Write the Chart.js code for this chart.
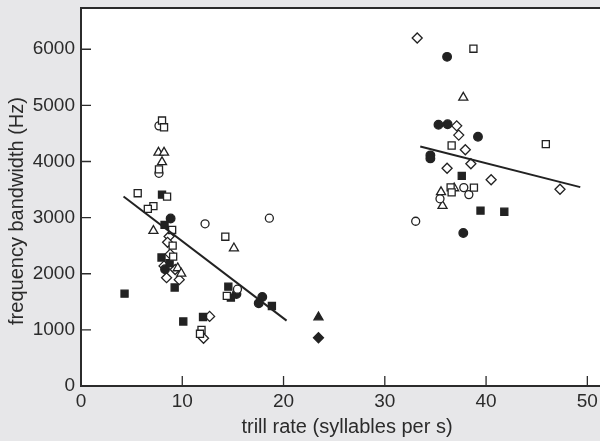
<!DOCTYPE html>
<html>
<head>
<meta charset="utf-8">
<script src="https://cdn.jsdelivr.net/npm/chart.js@4.4.0/dist/chart.umd.min.js"></script>
<style>
  html, body { margin: 0; padding: 0; background: #e7e7e9; overflow: hidden; }
  #chart { display: block; }
</style>
</head>
<body>
<canvas id="chart" width="600" height="441"></canvas>
<script>
const xTicks = [0, 10, 20, 30, 40, 50];
const yTicks = [0, 1000, 2000, 3000, 4000, 5000, 6000];
const xTitle = "trill rate (syllables per s)";
const yTitle = "frequency bandwidth (Hz)";

// [trill rate, bandwidth]
const openSquares = [
  [8.0, 4730], [8.2, 4610], [7.7, 3860], [5.6, 3435], [8.5, 3375], [7.15, 3205],
  [6.6, 3155], [9.0, 2780], [9.05, 2500], [9.1, 2305], [14.25, 2660], [14.4, 1605],
  [11.9, 1000], [11.75, 930],
  [38.75, 6010], [36.6, 4285], [45.9, 4310], [36.5, 3540], [36.6, 3450], [38.8, 3535]
];
const filledSquares = [
  [8.0, 3410], [8.25, 2870], [7.95, 2290], [8.75, 2190], [9.25, 1755], [4.3, 1645],
  [14.55, 1770], [14.8, 1575], [18.85, 1425], [10.1, 1150], [12.05, 1230],
  [37.6, 3745], [39.45, 3125], [41.8, 3105]
];
const openCircles = [
  [7.7, 4635], [7.7, 3790], [12.25, 2890], [18.6, 2990], [15.45, 1725],
  [37.8, 3535], [38.3, 3410], [35.45, 3335], [33.05, 2935]
];
const filledCircles = [
  [8.85, 2985], [8.3, 2080], [15.35, 1640], [17.9, 1585], [17.55, 1475],
  [36.15, 5865], [35.3, 4655], [36.2, 4665], [39.2, 4440], [34.5, 4110], [34.5, 4055],
  [37.75, 2725]
];
const openTriangles = [
  [7.65, 4160], [8.2, 4160], [8.0, 3990], [7.15, 2765], [15.1, 2455], [9.55, 2100],
  [9.9, 2005],
  [37.75, 5140], [36.85, 3525], [35.55, 3455], [35.7, 3210]
];
const filledTriangles = [[23.45, 1225]];
const openDiamonds = [
  [8.7, 2665], [8.55, 2560], [8.8, 2350], [8.2, 2140], [9.3, 2075], [8.45, 1930],
  [9.7, 1895], [12.7, 1240], [12.1, 850],
  [33.2, 6200], [37.1, 4635], [37.3, 4470], [37.95, 4210], [38.5, 3960], [36.15, 3880],
  [40.5, 3675], [47.3, 3505]
];
const filledDiamonds = [[23.45, 860]];
const fitSlow = [[4.2, 3375], [20.3, 1165]];
const fitFast = [[33.5, 4267], [49.3, 3543]];

const ink = '#222';
const toXY = pts => pts.map(p => ({ x: p[0], y: p[1] }));

function markers(label, pts, style, filled, r) {
  return {
    type: 'scatter',
    label: label,
    data: toXY(pts),
    pointStyle: style,
    pointRadius: r,
    pointHoverRadius: r,
    pointBorderWidth: 1.3,
    pointBorderColor: ink,
    pointBackgroundColor: filled ? ink : '#fff'
  };
}

function fitLine(label, pts) {
  return {
    type: 'line',
    label: label,
    data: toXY(pts),
    borderColor: ink,
    borderWidth: 2,
    pointRadius: 0,
    fill: false
  };
}

const frame = {
  id: 'frame',
  beforeDraw(chart) {
    const { ctx, chartArea: a } = chart;
    ctx.save();
    ctx.fillStyle = '#fff';
    ctx.fillRect(a.left, a.top, a.right - a.left + 5, a.bottom - a.top);
    ctx.restore();
  },
  afterDraw(chart) {
    const { ctx, chartArea: a, scales } = chart;
    ctx.save();
    ctx.strokeStyle = '#2b2b2b';
    ctx.lineWidth = 1.3;
    ctx.beginPath();
    xTicks.forEach(v => {
      const px = scales.x.getPixelForValue(v);
      ctx.moveTo(px, a.bottom);
      ctx.lineTo(px, a.bottom - 10);
    });
    yTicks.forEach(v => {
      const py = scales.y.getPixelForValue(v);
      ctx.moveTo(a.left, py);
      ctx.lineTo(a.left + 10, py);
    });
    ctx.stroke();
    ctx.lineWidth = 2;
    ctx.beginPath();
    ctx.moveTo(a.right + 5, a.top);
    ctx.lineTo(a.left, a.top);
    ctx.lineTo(a.left, a.bottom);
    ctx.lineTo(a.right + 5, a.bottom);
    ctx.stroke();

    ctx.fillStyle = '#2b2b2b';
    ctx.font = '20px "Liberation Sans", Arial, sans-serif';
    ctx.textAlign = 'center';
    ctx.textBaseline = 'middle';
    ctx.fillText(xTitle, a.left + 266, a.bottom + 41);
    ctx.translate(17, a.top + 203);
    ctx.rotate(-Math.PI / 2);
    ctx.fillText(yTitle, 0, 0);
    ctx.restore();
  }
};

const tickFont = { family: '"Liberation Sans", Arial, sans-serif', size: 19 };

new Chart(document.getElementById('chart'), {
  data: {
    datasets: [
      fitLine('fit slow', fitSlow),
      fitLine('fit fast', fitFast),
      markers('open squares', openSquares, 'rect', false, 5),
      markers('filled squares', filledSquares, 'rect', true, 5),
      markers('open circles', openCircles, 'circle', false, 4),
      markers('filled circles', filledCircles, 'circle', true, 4.3),
      markers('open triangles', openTriangles, 'triangle', false, 5.2),
      markers('filled triangles', filledTriangles, 'triangle', true, 5.2),
      markers('open diamonds', openDiamonds, 'rectRot', false, 5),
      markers('filled diamonds', filledDiamonds, 'rectRot', true, 5)
    ]
  },
  options: {
    responsive: false,
    animation: false,
    layout: { autoPadding: false, padding: { top: 8, left: 0, right: 0, bottom: 0 } },
    plugins: { legend: { display: false }, tooltip: { enabled: false } },
    scales: {
      x: {
        type: 'linear',
        min: 0,
        max: 51.25,
        afterBuildTicks: axis => { axis.ticks = xTicks.map(v => ({ value: v })); },
        afterFit: axis => {
          axis.height = 55;
          axis.paddingLeft = 0;
          axis.paddingRight = 0;
        },
        grid: { display: false, drawTicks: false },
        border: { display: false },
        ticks: { font: tickFont, color: '#2b2b2b', padding: 4, maxRotation: 0, callback: v => String(v) }
      },
      y: {
        type: 'linear',
        min: 0,
        max: 6735,
        afterBuildTicks: axis => { axis.ticks = yTicks.map(v => ({ value: v })); },
        afterFit: axis => {
          axis.width = 81;
          axis.paddingTop = 0;
          axis.paddingBottom = 0;
        },
        grid: { display: false, drawTicks: false },
        border: { display: false },
        ticks: { font: tickFont, color: '#2b2b2b', padding: 6, callback: v => String(v) }
      }
    }
  },
  plugins: [frame]
});
</script>
</body>
</html>
